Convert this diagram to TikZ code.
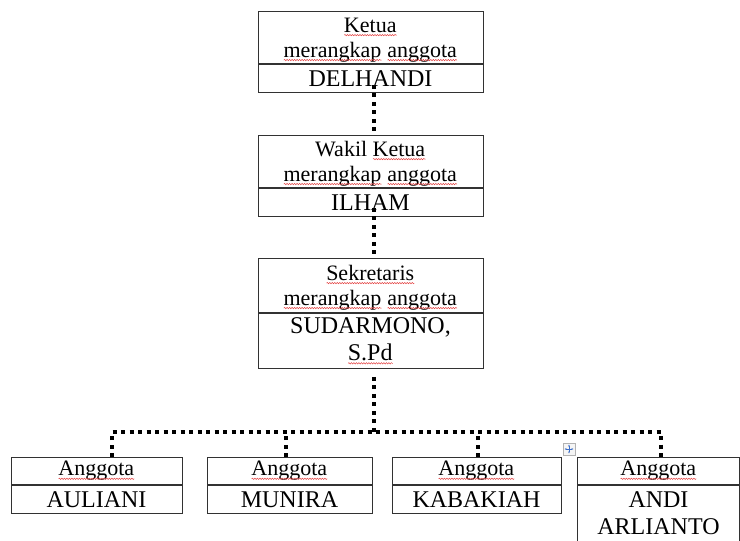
\documentclass[tikz,border=0pt]{standalone}
\usepackage{fontspec}
\setmainfont{Liberation Serif}
\usetikzlibrary{arrows.meta,positioning,calc,decorations.pathmorphing}
\definecolor{boxLine}{RGB}{50,50,50}
\definecolor{spellRed}{RGB}{228,70,70}
\definecolor{gripBlue}{RGB}{60,110,200}
\newlength\salahlen
\newcommand\salah[1]{\settowidth\salahlen{#1}\rlap{#1}\tikz[baseline=0pt]\draw[spellRed, line width=0.5pt, decorate, decoration={snake, amplitude=0.7pt, segment length=2.5pt}] (0pt,-3pt) -- (\salahlen,-3pt);}
\newcommand\topstrut{\rule{0pt}{19pt}}
\tikzset{
	jbox/.style={
		draw=boxLine,
		line width=0.9pt,
		minimum width=225pt,
		align=center,
		inner sep=0pt,
		font=\fontsize{22}{25}\selectfont
	},
	nbox/.style={jbox, font=\fontsize{24}{27}\selectfont},
	dline/.style={line width=4pt, dash pattern=on 4pt off 4.5pt}
}
\begin{document}
\begin{tikzpicture}[x=1pt, y=-1pt]
	\useasboundingbox (0,0) rectangle (740,541);
	% upper boxes
	\node[jbox, minimum height=52pt, anchor=north] (ketua) at (370.5,11) {\topstrut\salah{Ketua}\\\salah{merangkap} \salah{anggota}};
	\node[nbox, minimum height=28pt, below=0pt of ketua] (ketuaN) {DELHANDI};
	\node[jbox, minimum height=52pt, anchor=north] (wakil) at (370.5,135) {\topstrut Wakil \salah{Ketua}\\\salah{merangkap} \salah{anggota}};
	\node[nbox, minimum height=28pt, below=0pt of wakil] (wakilN) {ILHAM};
	\node[jbox, minimum height=54pt, anchor=north] (sek) at (370.5,258) {\topstrut\salah{Sekretaris}\\\salah{merangkap} \salah{anggota}};
	\node[nbox, minimum height=55pt, below=0pt of sek] (sekN) {SUDARMONO,\\\salah{S.Pd}};
	% anggota
	\node[jbox, minimum width=171pt, minimum height=27pt, anchor=north] (ang1) at (96.5,457) {\salah{Anggota}};
	\node[nbox, minimum width=171pt, minimum height=28pt, below=0pt of ang1] (nm1) {AULIANI};
	\node[jbox, minimum width=165pt, minimum height=27pt, anchor=north] (ang2) at (289.5,457) {\salah{Anggota}};
	\node[nbox, minimum width=165pt, minimum height=28pt, below=0pt of ang2] (nm2) {MUNIRA};
	\node[jbox, minimum width=169pt, minimum height=27pt, anchor=north] (ang3) at (476.5,457) {\salah{Anggota}};
	\node[nbox, minimum width=169pt, minimum height=28pt, below=0pt of ang3] (nm3) {KABAKIAH};
	\node[jbox, minimum width=162pt, minimum height=27pt, anchor=north] (ang4) at (658.5,457) {\salah{Anggota}};
	\node[nbox, minimum width=162pt, minimum height=56pt, below=0pt of ang4] (nm4) {ANDI\\ARLIANTO};
	% dotted lines
	\coordinate (bus) at (374,432);
	\coordinate (t1) at (112,432);
	\coordinate (t2) at (286,432);
	\coordinate (t3) at (478,432);
	\coordinate (t4) at (661,432);
	\draw[dline, shorten <=-8pt] ([xshift=3.5pt]ketuaN.south) -- ([xshift=3.5pt]wakil.north);
	\draw[dline, shorten <=-9pt] ([xshift=3.5pt]wakilN.south) -- ([xshift=3.5pt]sek.north);
	\draw[dline, shorten <=8pt] (sekN.south -| bus) -- (bus);
	\draw[dline] (ang1.north -| t1) -- (t1) -- (t4) -- (ang4.north -| t4);
	\draw[dline] (ang2.north -| t2) -- (t2);
	\draw[dline] (ang3.north -| t3) -- (t3);
	% table handle
	\node[draw=gray!60, fill=gray!8, line width=0.5pt, minimum size=12pt, inner sep=0pt] (grip) at (569,449) {};
	\draw[gripBlue, line width=0.6pt, {Stealth[length=2pt]}-{Stealth[length=2pt]}] ([xshift=-4.5pt]grip.center) -- ([xshift=4.5pt]grip.center);
	\draw[gripBlue, line width=0.6pt, {Stealth[length=2pt]}-{Stealth[length=2pt]}] ([yshift=-4.5pt]grip.center) -- ([yshift=4.5pt]grip.center);
\end{tikzpicture}
\end{document}
